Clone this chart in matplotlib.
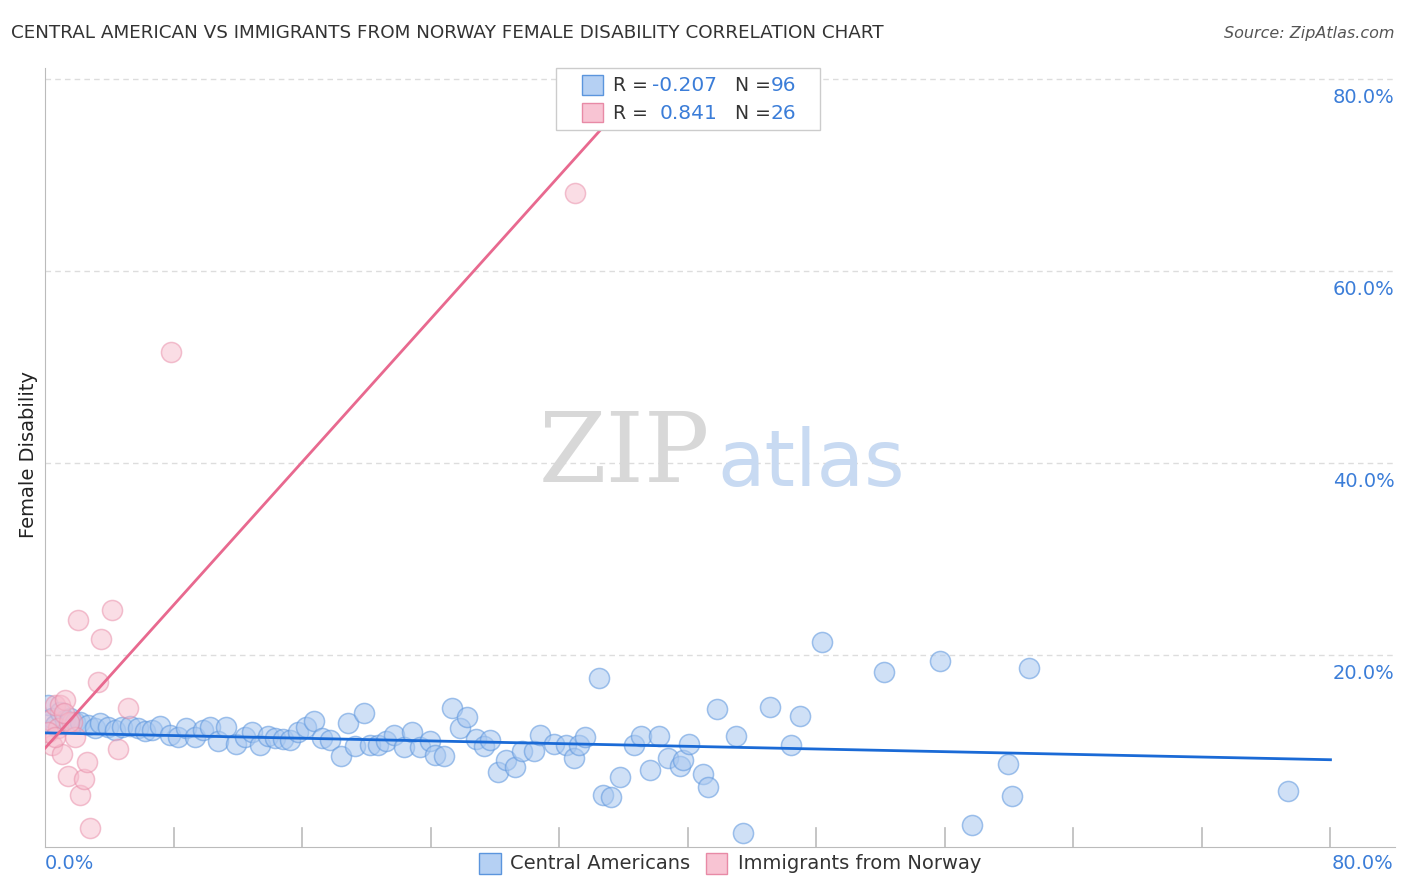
import numpy as np
import matplotlib.pyplot as plt
from matplotlib.patches import Rectangle

# Central Americans
ca_x = [0.19,0.44,0.62,0.93,1.25,1.56,1.87,2.18,2.68,3.11,3.43,3.92,4.36,4.79,5.29,5.79,6.23,6.66,7.16,7.78,
        8.28,8.78,9.34,9.84,10.27,10.77,11.27,11.89,12.45,12.89,13.39,13.88,14.32,14.82,15.25,15.75,16.25,16.75,
        17.25,17.74,18.43,18.86,19.30,19.86,20.23,20.73,21.23,21.73,22.35,22.85,23.35,23.97,24.28,24.84,25.34,
        25.84,26.27,26.83,27.33,27.71,28.20,28.70,29.26,29.70,30.45,30.82,31.69,32.44,32.94,33.25,33.62,34.49,
        34.74,35.24,35.80,36.67,37.11,37.67,38.23,38.79,39.54,39.72,40.10,40.97,41.28,41.84,43.02,43.46,45.14,
        46.45,47.01,48.38,52.24,55.72,57.71,59.96,60.21,61.26,77.33]
ca_y = [14.8,13.5,12.7,14.1,13.2,13.5,13.0,13.0,12.7,12.4,12.9,12.5,12.2,12.5,12.6,12.4,12.1,12.2,12.6,11.7,
        11.5,12.4,11.5,12.2,12.5,11.1,12.5,10.7,11.5,12.0,10.6,11.6,11.4,11.3,11.2,12.0,12.5,13.1,
        11.4,11.2,9.5,12.9,10.5,14.0,10.6,10.6,11.1,11.7,10.4,12.0,10.4,11.1,9.6,9.5,14.5,
        12.4,13.6,11.3,10.5,11.2,7.8,9.1,8.3,10.0,10.0,11.7,10.7,10.6,9.3,10.6,11.5,17.6,
        5.4,5.2,7.3,10.6,11.6,8.0,11.6,9.3,8.4,9.1,10.7,7.6,6.3,14.4,11.6,1.5,14.6,
        10.6,13.7,21.4,18.2,19.4,2.3,8.7,5.3,18.7,5.8]

# Immigrants from Norway
no_x = [0.31,0.44,0.62,0.81,0.93,1.06,1.25,1.43,1.68,1.87,2.05,2.18,2.43,2.61,2.80,3.30,3.49,4.17,4.54,5.17,
        7.84,33.0,0.2,0.6,1.5,1.2]
no_y = [13.2,10.6,14.8,12.4,14.8,9.7,15.3,7.4,13.0,11.5,23.7,5.4,7.1,8.9,2.0,17.2,21.7,24.7,10.2,14.5,
        51.6,68.2,12.0,11.5,13.0,14.0]

blue_fit = (11.9, 9.1)     # y at x=0 and x=80
pink_fit = (10.3, 1.864)   # intercept, slope

BLUE = "#3b7dd8"
PINK = "#e8698f"

fig = plt.figure(figsize=(14.06, 8.92), dpi=100)
ax = fig.add_axes([0.032, 0.0504, 0.960, 0.8734])
ax.set_xlim(0, 84)
ax.set_ylim(0, 81.2)

ax.scatter(ca_x, ca_y, s=210, facecolor="#a9c8f0", edgecolor="#5b95dd", alpha=0.55, linewidth=1.1, zorder=3)
ax.scatter(no_x, no_y, s=210, facecolor="#f7bccd", edgecolor="#e88aa6", alpha=0.5, linewidth=1.1, zorder=3)

ax.plot([0, 80], list(blue_fit), color="#1a6ad6", lw=2, zorder=4)
xe = (80 - pink_fit[0]) / pink_fit[1]
ax.plot([0, xe], [pink_fit[0], pink_fit[0] + pink_fit[1] * xe], color=PINK, lw=2, zorder=4)

for v in [20, 40, 60, 80]:
    ax.axhline(v, color="#dddddd", ls=(0, (4, 3)), lw=1, zorder=1)
for v in np.arange(8, 81, 8):
    ax.plot([v, v], [0, 2], color="#bbbbbb", lw=1.2, zorder=2)

for s in ["top", "right"]:
    ax.spines[s].set_visible(False)
for s in ["left", "bottom"]:
    ax.spines[s].set_color("#bbbbbb")
ax.set_xticks([])
ax.set_yticks([])
for v in [20, 40, 60, 80]:
    ax.text(1.0, v / 81.2 - 0.023, f"{v:.1f}%", transform=ax.transAxes, ha="right", va="center",
            fontsize=14, color=BLUE)
fig.text(0.032, 0.032, "0.0%", fontsize=14, color=BLUE, ha="left", va="center")
fig.text(0.991, 0.032, "80.0%", fontsize=14, color=BLUE, ha="right", va="center")
fig.text(0.02, 0.49, "Female Disability", rotation=90, fontsize=14, ha="center", va="center", color="#222222")

fig.text(0.008, 0.963, "CENTRAL AMERICAN VS IMMIGRANTS FROM NORWAY FEMALE DISABILITY CORRELATION CHART",
         fontsize=13.2, color="#333333", va="center")
fig.text(0.992, 0.963, "Source: ZipAtlas.com", fontsize=11.5, color="#555555", ha="right", va="center",
         style="italic")

# watermark
fig.text(0.505, 0.49, "ZIP", fontsize=70, family="DejaVu Serif", color="#d8d8d8", ha="right", va="center")
fig.text(0.51, 0.48, "atlas", fontsize=56, color="#c8daf2", ha="left", va="center")

# top legend box
fig.patches.append(Rectangle((0.3955, 0.854), 0.188, 0.07, transform=fig.transFigure, facecolor="white",
                             edgecolor="#cccccc", lw=1, zorder=5))
fig.patches.append(Rectangle((0.414, 0.894), 0.015, 0.022, transform=fig.transFigure, facecolor="#b5d0f3",
                             edgecolor="#5b95dd", lw=1, zorder=6))
fig.patches.append(Rectangle((0.414, 0.863), 0.015, 0.022, transform=fig.transFigure, facecolor="#f8c4d3",
                             edgecolor="#e88aa6", lw=1, zorder=6))
for yy, r, n in [(0.904, "-0.207", "96"), (0.873, "0.841", "26")]:
    fig.text(0.436, yy, "R =", fontsize=13.5, color="#333333", va="center", zorder=7)
    fig.text(0.510, yy, r, fontsize=14.5, color=BLUE, va="center", ha="right", zorder=7)
    fig.text(0.523, yy, "N =", fontsize=13.5, color="#333333", va="center", zorder=7)
    fig.text(0.548, yy, n, fontsize=14.5, color=BLUE, va="center", zorder=7)

# bottom legend
fig.patches.append(Rectangle((0.341, 0.020), 0.015, 0.024, transform=fig.transFigure, facecolor="#b5d0f3",
                             edgecolor="#5b95dd", lw=1))
fig.text(0.363, 0.032, "Central Americans", fontsize=14, color="#333333", va="center")
fig.patches.append(Rectangle((0.502, 0.020), 0.015, 0.024, transform=fig.transFigure, facecolor="#f8c4d3",
                             edgecolor="#e88aa6", lw=1))
fig.text(0.525, 0.032, "Immigrants from Norway", fontsize=14, color="#333333", va="center")

fig.savefig("out.png", dpi=100)
